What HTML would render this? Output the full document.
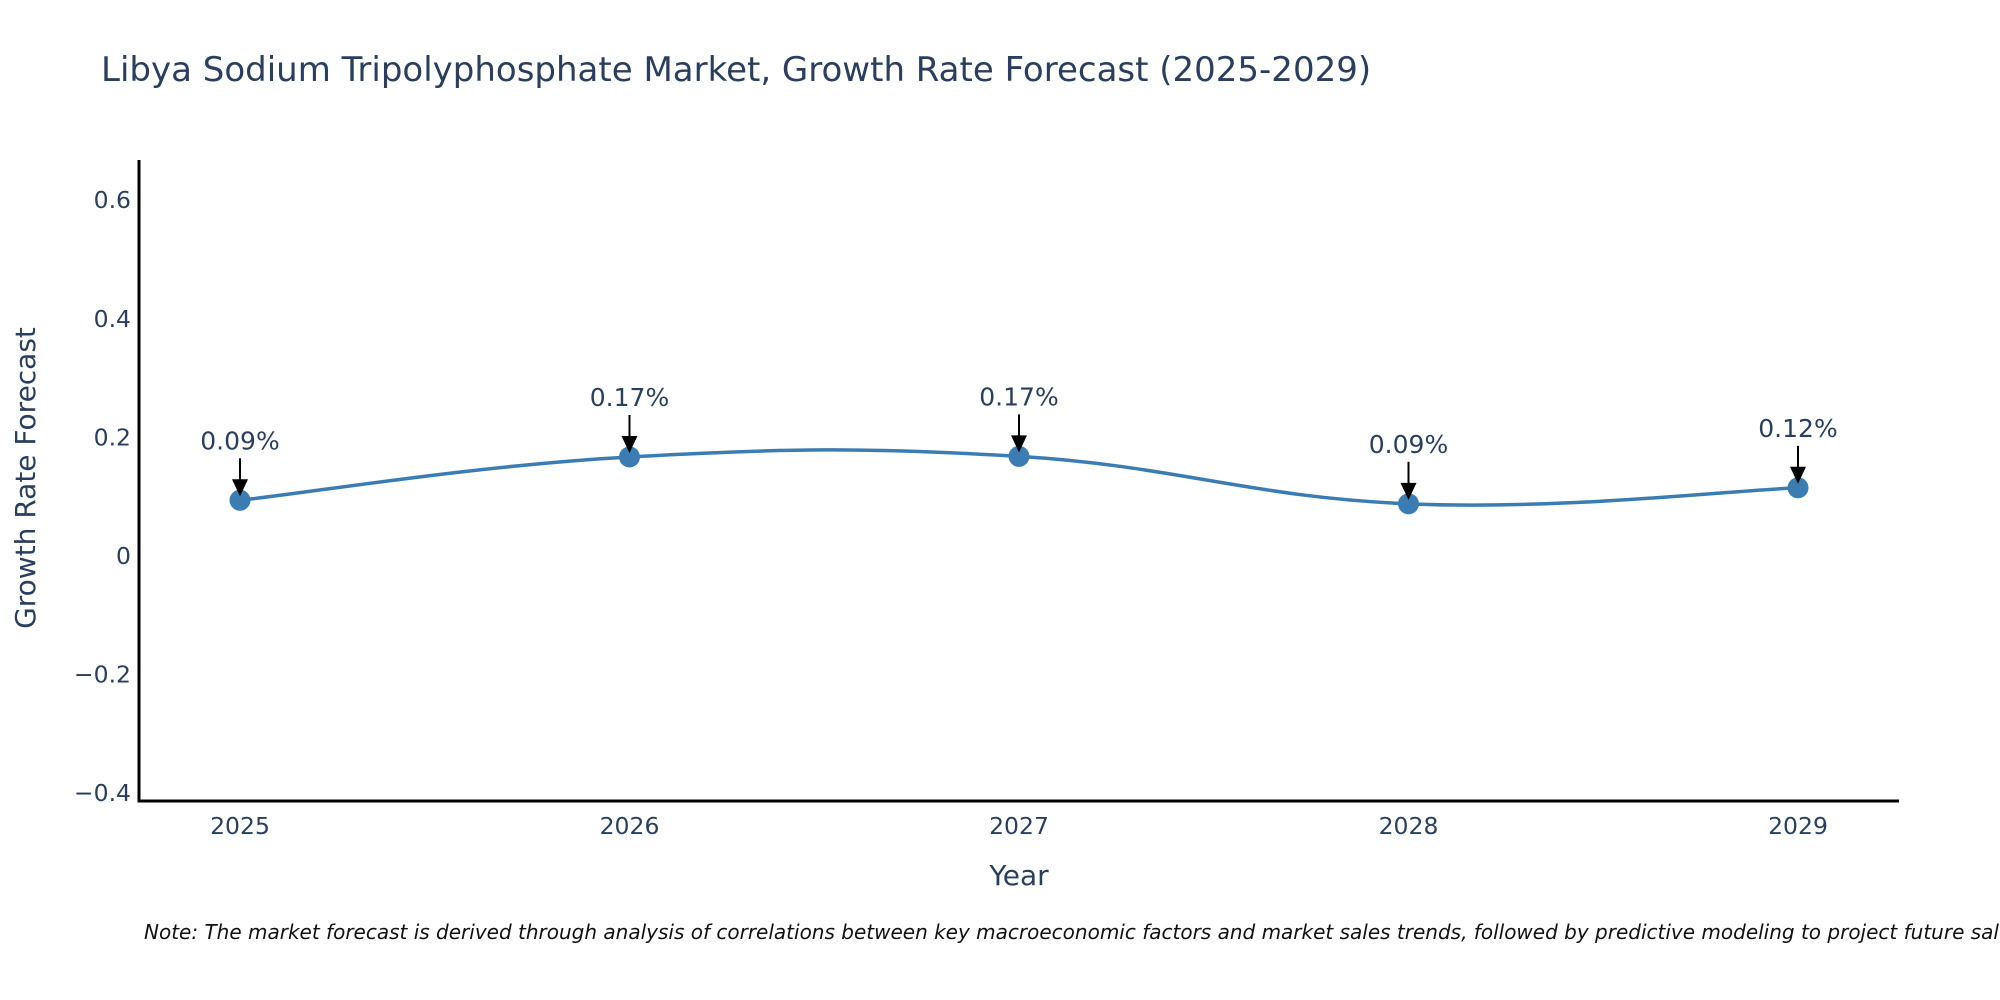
<!DOCTYPE html>
<html><head><meta charset="utf-8"><style>
html,body{margin:0;padding:0;background:#fff;width:2000px;height:1000px;overflow:hidden}
svg{display:block}
text{font-family:"DejaVu Sans","Liberation Sans",sans-serif;fill:#2a3f5f}
</style></head><body>
<svg id="chart" width="2000" height="1000" xmlns="http://www.w3.org/2000/svg">
<text x="101" y="81" font-size="34">Libya Sodium Tripolyphosphate Market, Growth Rate Forecast (2025-2029)</text>
<g id="yticks"></g>
<g id="xticks"></g>
<line x1="139" y1="160" x2="139" y2="802" stroke="#000" stroke-width="3"/>
<line x1="137.5" y1="801" x2="1899" y2="801" stroke="#000" stroke-width="3"/>
<path id="line" fill="none" stroke="#3b7db3" stroke-width="3.5"/>
<g id="points"></g>
<g id="annots"></g>
<text x="1019" y="885" font-size="28" text-anchor="middle">Year</text>
<text transform="translate(35,478) rotate(-90)" font-size="28" text-anchor="middle">Growth Rate Forecast</text>
<text x="144" y="939" font-size="20" font-style="italic" style="fill:#111">Note: The market forecast is derived through analysis of correlations between key macroeconomic factors and market sales trends, followed by predictive modeling to project future sales.</text>
</svg>
<script>
const years = [2025, 2026, 2027, 2028, 2029];
const values = [0.094, 0.167, 0.168, 0.088, 0.115];
const labels = ["0.09%", "0.17%", "0.17%", "0.09%", "0.12%"];
const yTickValues = [-0.4, -0.2, 0, 0.2, 0.4, 0.6];
const yTickLabels = ["\u22120.4", "\u22120.2", "0", "0.2", "0.4", "0.6"];

const NS = "http://www.w3.org/2000/svg";
function xs(v){ return 240 + (v - 2025) * 389.5; }
function ys(v){ return 556 - v * 593; }
function mk(tag, attrs, parent){ const e = document.createElementNS(NS, tag); for (const k in attrs) e.setAttribute(k, attrs[k]); parent.appendChild(e); return e; }

const yt = document.getElementById('yticks');
yTickValues.forEach((v, i) => {
  const t = mk('text', {x: 131, y: ys(v) + 8, 'font-size': 23.5, 'text-anchor': 'end'}, yt);
  
  
  t.textContent = yTickLabels[i];
});
const xt = document.getElementById('xticks');
years.forEach(y => {
  const t = mk('text', {x: xs(y), y: 834, 'font-size': 23.5, 'text-anchor': 'middle'}, xt);
  
  
  t.textContent = String(y);
});

const P = years.map((y, i) => [xs(y), ys(values[i])]);
let d = `M${P[0][0]},${P[0][1]}`;
const s = 0.2;
for (let i = 0; i < P.length - 1; i++) {
  const p0 = P[i-1] || P[i], p1 = P[i], p2 = P[i+1], p3 = P[i+2] || P[i+1];
  const c1 = [p1[0] + (p2[0]-p0[0])*s, p1[1] + (p2[1]-p0[1])*s];
  const c2 = [p2[0] - (p3[0]-p1[0])*s, p2[1] - (p3[1]-p1[1])*s];
  d += ` C${c1[0]},${c1[1]} ${c2[0]},${c2[1]} ${p2[0]},${p2[1]}`;
}
document.getElementById('line').setAttribute('d', d);

const pts = document.getElementById('points');
const an = document.getElementById('annots');
P.forEach((p, i) => {
  const c = mk('circle', {cx: p[0], cy: p[1], r: 10.5, fill: '#3b7db3'}, pts);
  
  
  const l = mk('line', {x1: p[0], y1: p[1] - 42, x2: p[0], y2: p[1] - 18, stroke: '#000', 'stroke-width': 2}, an);
  
  
  const h = mk('path', {d: `M${p[0]-8},${p[1]-21} L${p[0]+8},${p[1]-21} L${p[0]},${p[1]-4} Z`, fill: '#000'}, an);
  
  
  const t = mk('text', {x: p[0], y: p[1] - 51, 'font-size': 25, 'text-anchor': 'middle'}, an);
  
  
  t.textContent = labels[i];
});
</script>
</body></html>
